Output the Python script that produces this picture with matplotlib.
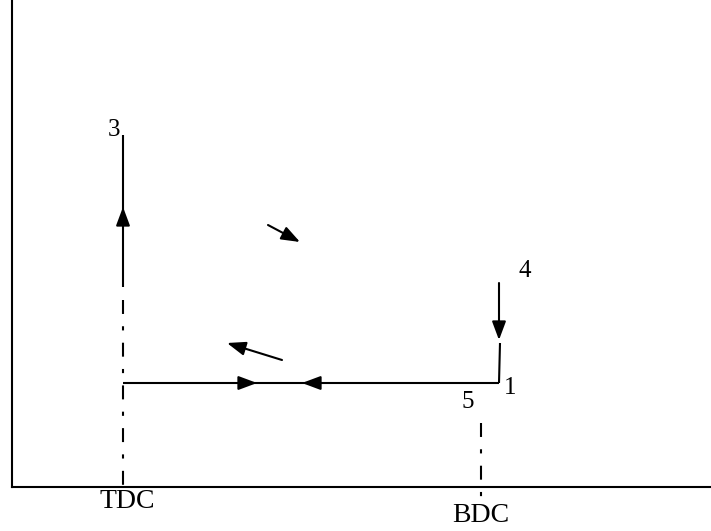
import matplotlib
matplotlib.use("Agg")
import matplotlib.pyplot as plt

# Schematic coordinates (arbitrary units, origin at the axes corner)
tdc_x = 111
bdc_x = 469
p1_x = 487
base_y = 104          # horizontal line (points 5-1 level)
p3_y = 352            # top of TDC line
tdc_solid_bottom = 200
p1_top_y = 144
arrow4 = [(487, 204), (487, 147)]
tdc_dash = [(111, 187), (111, -3)]
bdc_dash = [(469, 64), (469, -13)]
slant_arrows = [((256, 262), (288, 245)), ((270, 127), (215, 144))]
mid_arrows = [((226, 104), (245, 104)), ((310, 104), (290, 104)), ((111, 262), (111, 280))]

labels = [("3", 102, 357), ("4", 513, 216), ("1", 498, 99), ("5", 456, 85)]
tick_labels = [("TDC", 115, -14), ("BDC", 469, -29)]

fig = plt.figure(figsize=(7.11, 5.31), dpi=100)
ax = fig.add_axes([12/711, 44/531, 699/711, 487/531])
ax.set_xlim(0, 699)
ax.set_ylim(0, 487)
for s in ["top", "right"]:
    ax.spines[s].set_visible(False)
for s in ["left", "bottom"]:
    ax.spines[s].set_linewidth(1.5)
ax.set_xticks([])
ax.set_yticks([])

lw = 1.5
k = "black"
# solid lines
ax.plot([tdc_x, tdc_x], [tdc_solid_bottom, p3_y], color=k, lw=lw, solid_capstyle="butt")
ax.plot([tdc_x, p1_x], [base_y, base_y], color=k, lw=lw, solid_capstyle="butt")
ax.plot([p1_x, p1_x + 1], [base_y, p1_top_y], color=k, lw=lw, solid_capstyle="butt")

dash = (0, (6.7, 5.9, 2.0, 5.9))
for seg in (tdc_dash, bdc_dash):
    ax.plot([seg[0][0], seg[1][0]], [seg[0][1], seg[1][1]], color=k, lw=lw,
            linestyle=dash, clip_on=False, dash_capstyle="butt")

aprops = dict(arrowstyle="-|>,head_length=0.75,head_width=0.28", mutation_scale=15,
              color=k, lw=lw, shrinkA=0, shrinkB=0)
ax.annotate("", xy=arrow4[1], xytext=arrow4[0], arrowprops=aprops)
for a, b in slant_arrows + mid_arrows:
    ax.annotate("", xy=b, xytext=a, arrowprops=aprops)

font = dict(family=["Liberation Serif", "DejaVu Serif"], color=k)
for t, x, y in labels:
    ax.text(x, y, t, ha="center", va="center", fontsize=18, **font)
for t, x, y in tick_labels:
    ax.text(x, y, t, ha="center", va="center", clip_on=False, fontsize=20, **font)

fig.savefig("out.png", dpi=100)
